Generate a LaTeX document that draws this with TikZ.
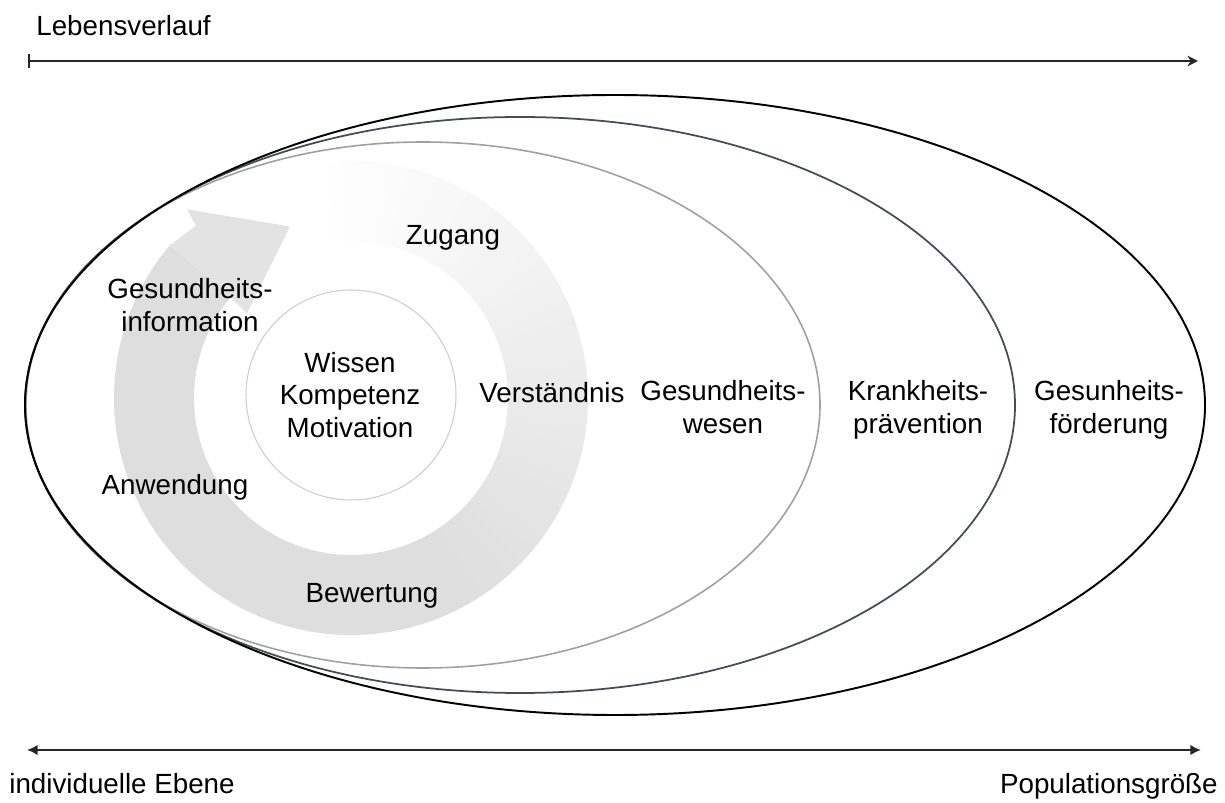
\documentclass[tikz,border=0pt]{standalone}
\usepackage{fontspec}
\setmainfont{Liberation Sans}
\usetikzlibrary{arrows.meta}
\definecolor{midc}{RGB}{70,75,90}
\definecolor{lightc}{RGB}{160,160,160}
\definecolor{circc}{RGB}{205,205,205}
\begin{document}
\begin{tikzpicture}[x=0.02cm,y=-0.02cm,
  lbl/.style={font=\fontsize{15.8}{18.6}\selectfont, inner sep=0pt, align=center, text=black},
  axisline/.style={line width=1.4pt, draw=black!85},
  outerell/.style={line width=1.1pt, draw=black},
  midell/.style={line width=1pt, draw=midc},
  lightell/.style={line width=0.9pt, draw=lightc},
]
\useasboundingbox (0,0) rectangle (1225,803);
% circular gray arrow (band with gradient)
\begin{scope}[shift={(351,398)}, y=0.02cm]
  \foreach \a in {100,96,...,-216} {
    \pgfmathsetmacro{\t}{(100-\a)/322}
    \pgfmathsetmacro{\s}{min(13,26*\t)}
    \pgfmathsetmacro{\b}{\a-4.6}
    \fill[black!\s] (\a:157) arc[start angle=\a, end angle=\b, radius=157]
      -- (\b:237) arc[start angle=\b, end angle=\a, radius=237] -- cycle;
  }
  \fill[black!11] (140:237) -- (132:232) -- (131:250) -- (109.6:182)
    -- (141:134) -- (140:157) -- cycle;
\end{scope}
% inner circle
\draw[line width=0.6pt, draw=circc] (351,395) circle [radius=105];
% ellipses
\draw[lightell] (423,405) ellipse [x radius=397, y radius=263];
\draw[midell] (520,405) ellipse [x radius=495, y radius=288];
\draw[outerell] (615,405) ellipse [x radius=590, y radius=310];
% axes
\coordinate (ta) at (28,61);
\coordinate (tb) at (1198,61);
\draw[axisline, {Bar[width=8pt]}-{Stealth[length=6pt,width=6pt]}] (ta) -- (tb);
\coordinate (ba) at (27,750);
\coordinate (bb) at (1201,750);
\draw[axisline, {Latex[length=6pt,width=6pt]}-{Latex[length=6pt,width=6pt]}] (ba) -- (bb);
% labels
\node[lbl, anchor=base west] (leb) at (36,36) {Lebensverlauf};
\node[lbl, anchor=base west] (ind) at (9,794) {individuelle Ebene};
\node[lbl, anchor=base east] (pop) at (1218,794) {Populationsgröße};
\node[lbl, anchor=base] (zug) at (453,245) {Zugang};
\node[lbl] (gi) at (190,305) {Gesundheits-\\information};
\node[lbl] (wkm) at (350,395) {Wissen\\Kompetenz\\Motivation};
\node[lbl, anchor=base] (ver) at (552,403) {Verständnis};
\node[lbl, anchor=base] (anw) at (175,495) {Anwendung};
\node[lbl, anchor=base] (bew) at (372,603) {Bewertung};
\node[lbl] (gw) at (723,407) {Gesundheits-\\wesen};
\node[lbl] (kp) at (918,410) {Krankheits-\\prävention};
\node[lbl] (gf) at (1109,410) {Gesunheits-\\förderung};
\end{tikzpicture}
\end{document}
